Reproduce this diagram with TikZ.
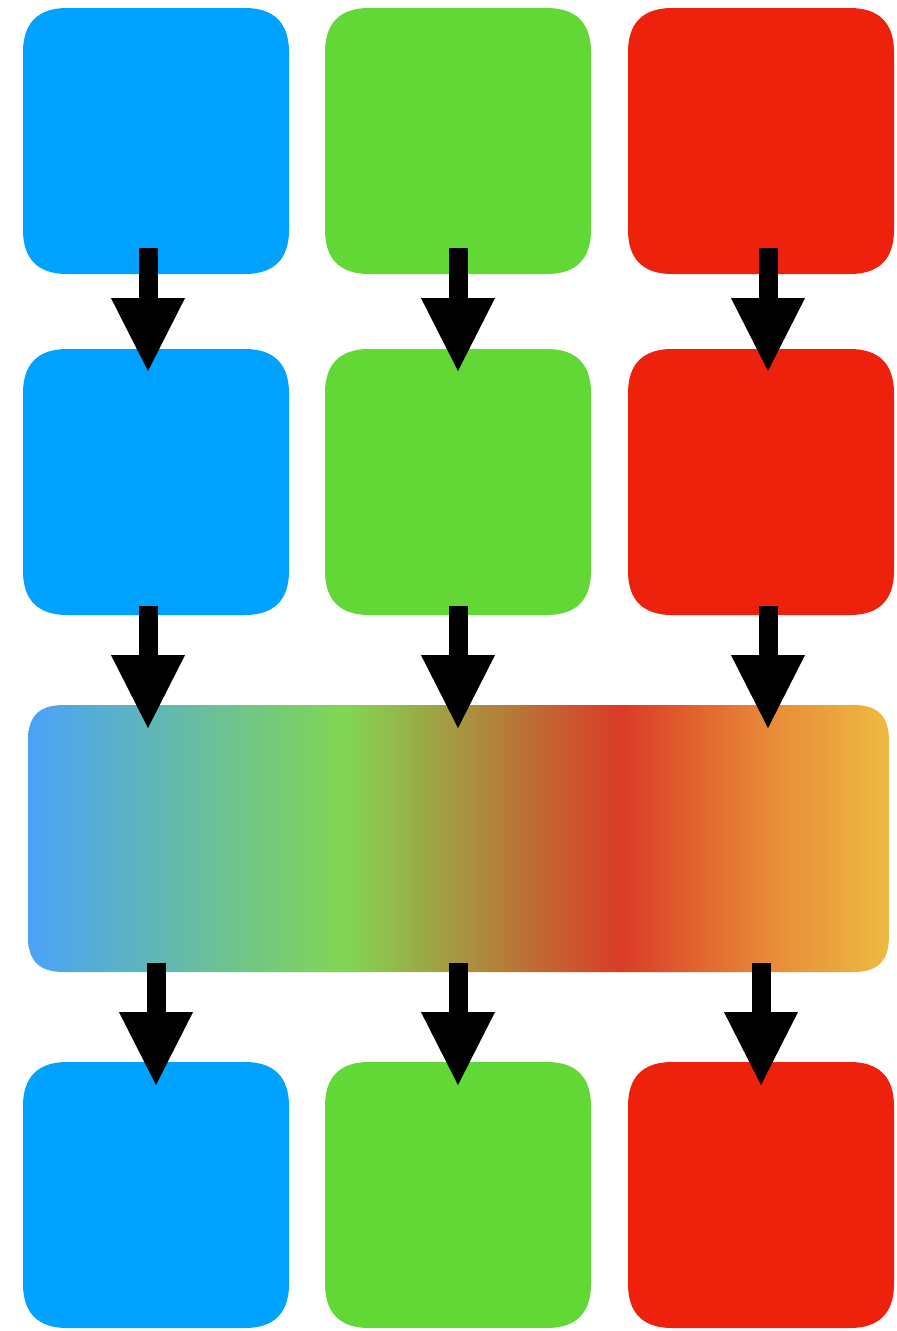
\documentclass[tikz,border=0pt]{standalone}
\usetikzlibrary{arrows.meta,calc}
\definecolor{tileblue}{HTML}{00A2FF}
\definecolor{tilegreen}{HTML}{61D836}
\definecolor{tilered}{HTML}{EE220C}
\definecolor{gbBlue}{HTML}{4AA2F8}
\definecolor{gbGreen}{HTML}{82D653}
\definecolor{gbRed}{HTML}{DA3B26}
\definecolor{gbOrange}{HTML}{E78A38}
\definecolor{gbYellow}{HTML}{EEBA42}
% blended band: blue -> green -> red -> orange -> yellow
\pgfdeclarehorizontalshading{mixband}{100bp}{%
  color(0bp)=(gbBlue); color(25bp)=(gbBlue);
  color(43.4bp)=(gbGreen); color(59.4bp)=(gbRed);
  color(68bp)=(gbOrange); color(75bp)=(gbYellow); color(100bp)=(gbYellow)}
\tikzset{
  tile/.style={rectangle, minimum width=266pt,
    minimum height=266pt, inner sep=0pt, outer sep=0pt},
  band/.style={rectangle, minimum width=861pt,
    minimum height=267pt, inner sep=0pt, outer sep=0pt},
  flow/.style={draw=black, line width=19pt,
    -{Triangle[width=68pt,length=75pt]}}
}
% smooth-cornered outline around node #2; #3 = corner extent, #4 = control offset
\newcommand\softoutline[4]{%
  \path[#1]
    ($(#2.north west)+(0,#3)$) .. controls ($(#2.north west)+(0,#4)$) and ($(#2.north west)+(#4,0)$) .. ($(#2.north west)+(#3,0)$)
    -- ($(#2.north east)+(-#3,0)$) .. controls ($(#2.north east)+(-#4,0)$) and ($(#2.north east)+(0,#4)$) .. ($(#2.north east)+(0,#3)$)
    -- ($(#2.south east)+(0,-#3)$) .. controls ($(#2.south east)+(0,-#4)$) and ($(#2.south east)+(-#4,0)$) .. ($(#2.south east)+(-#3,0)$)
    -- ($(#2.south west)+(#3,0)$) .. controls ($(#2.south west)+(#4,0)$) and ($(#2.south west)+(0,-#4)$) .. ($(#2.south west)+(0,-#3)$)
    -- cycle;}
\begin{document}
\begin{tikzpicture}[x=1pt,y=-1pt]
\useasboundingbox (0,0) rectangle (897,1331);
% row 1
\node[tile] (b11) at (156,141) {};
\node[tile] (b12) at (458,141) {};
\node[tile] (b13) at (761,141) {};
% row 2
\node[tile] (b21) at (156,482) {};
\node[tile] (b22) at (458,482) {};
\node[tile] (b23) at (761,482) {};
% blended band
\node[band] (mix) at (458.5,838.5) {};
% row 4
\node[tile] (b41) at (156,1195) {};
\node[tile] (b42) at (458,1195) {};
\node[tile] (b43) at (761,1195) {};
% tile fills
\softoutline{fill=tileblue}{b11}{44}{15}
\softoutline{fill=tilegreen}{b12}{44}{15}
\softoutline{fill=tilered}{b13}{44}{15}
\softoutline{fill=tileblue}{b21}{44}{15}
\softoutline{fill=tilegreen}{b22}{44}{15}
\softoutline{fill=tilered}{b23}{44}{15}
\softoutline{shading=mixband}{mix}{36}{11}
\softoutline{fill=tileblue}{b41}{44}{15}
\softoutline{fill=tilegreen}{b42}{44}{15}
\softoutline{fill=tilered}{b43}{44}{15}
% arrows row 1 -> row 2
\draw[flow] ([xshift=-8pt,yshift=26pt]b11.south) -- ([xshift=-8pt,yshift=-24pt]b21.north);
\draw[flow] ([yshift=26pt]b12.south) -- ([yshift=-24pt]b22.north);
\draw[flow] ([xshift=7pt,yshift=26pt]b13.south) -- ([xshift=7pt,yshift=-24pt]b23.north);
% arrows row 2 -> band
\draw[flow] ([xshift=-8pt,yshift=9pt]b21.south) -- ([xshift=-310.5pt,yshift=-25pt]mix.north);
\draw[flow] ([yshift=9pt]b22.south) -- ([xshift=-0.5pt,yshift=-25pt]mix.north);
\draw[flow] ([xshift=7pt,yshift=9pt]b23.south) -- ([xshift=309.5pt,yshift=-25pt]mix.north);
% arrows band -> row 4
\draw[flow] ([xshift=-302.5pt,yshift=9pt]mix.south) -- ([yshift=-25pt]b41.north);
\draw[flow] ([xshift=-0.5pt,yshift=9pt]mix.south) -- ([yshift=-25pt]b42.north);
\draw[flow] ([xshift=302.5pt,yshift=9pt]mix.south) -- ([yshift=-25pt]b43.north);
\end{tikzpicture}
\end{document}
